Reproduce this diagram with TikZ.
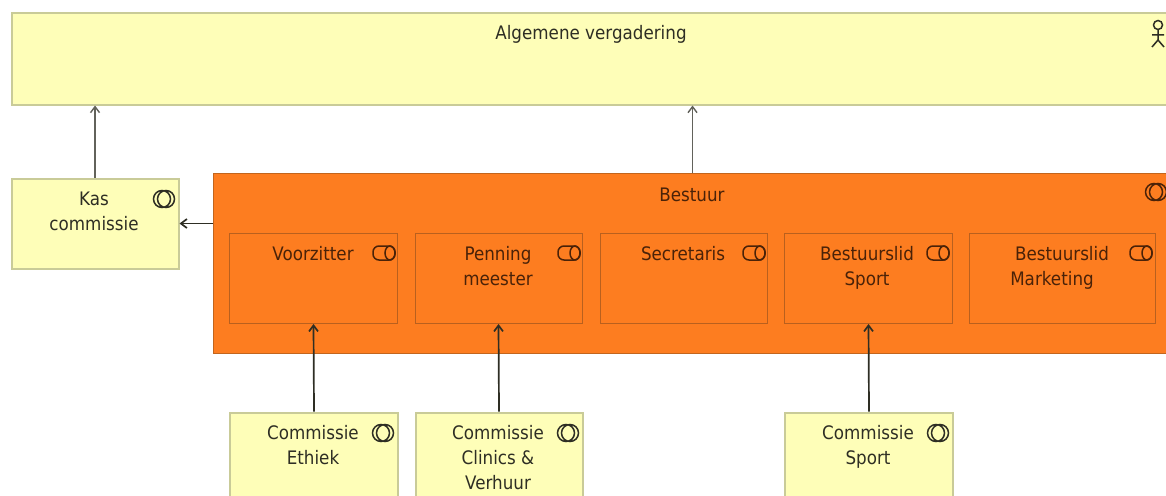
\documentclass[tikz,border=0pt]{standalone}
\usepackage{fontspec}
\setmainfont{DejaVu Sans}[FakeStretch=0.9]
\usetikzlibrary{arrows.meta}
\definecolor{yfill}{HTML}{FEFEB8}
\definecolor{yline}{HTML}{C9CB98}
\definecolor{ofill}{HTML}{FD7D20}
\definecolor{oline}{HTML}{C2651D}
\definecolor{iline}{HTML}{B9601E}
\definecolor{ink}{HTML}{2E2E24}
\definecolor{oink}{HTML}{4A2208}
\tikzset{
  x=1pt,y=-1pt,
  ybox/.style={draw=yline,fill=yfill,line width=2pt,rectangle,inner sep=0pt,anchor=north west},
  obox/.style={draw=oline,fill=ofill,line width=1pt,rectangle,inner sep=0pt,anchor=north west},
  ibox/.style={draw=iline,fill=ofill,line width=1pt,rectangle,inner sep=0pt,anchor=north west},
  txt/.style={align=center,inner sep=0pt,text=ink,font=\fontsize{18.6}{25}\selectfont},
  otxt/.style={txt,text=oink},
  conn/.style={draw=ink,line width=1.7pt,-{Straight Barb[length=6pt,width=9pt]}},
  thinconn/.style={draw=ink!75,line width=1.4pt,-{Straight Barb[length=6pt,width=9pt]}},
  icon/.style={draw=ink,line width=1.5pt},
  oicon/.style={draw=oink,line width=1.5pt},
  collab/.pic={\draw[pic actions] (-2,0) circle (8.5) (2,0) circle (8.5);},
  role/.pic={\draw[pic actions,rounded corners=6pt] (-11,-7) rectangle (11,7);
             \draw[pic actions] (6,0) ellipse (5 and 7);},
}
\begin{document}
\begin{tikzpicture}
\useasboundingbox (0,0) rectangle (1166,495);
\clip (0,0) rectangle (1166,495);
\fill[white] (0,0) rectangle (1166,495);
% main boxes
\node[ybox,minimum width=1160pt,minimum height=91pt] (top) at (10.5,12.5) {};
\node[ybox,minimum width=167pt,minimum height=90pt] (kas) at (10.5,177.5) {};
\node[obox,minimum width=958pt,minimum height=180pt] (bestuur) at (213,173) {};
\node[ibox,minimum width=168pt,minimum height=90pt] (voor) at (229,233) {};
\node[ibox,minimum width=167pt,minimum height=90pt] (penn) at (414.5,233) {};
\node[ibox,minimum width=167pt,minimum height=90pt] (secr) at (599.5,233) {};
\node[ibox,minimum width=168pt,minimum height=90pt] (sport) at (784,233) {};
\node[ibox,minimum width=186pt,minimum height=90pt] (mark) at (969,233) {};
\node[ybox,minimum width=168pt,minimum height=110pt] (ethiek) at (229,411.5) {};
\node[ybox,minimum width=167pt,minimum height=110pt] (clinics) at (414.5,411.5) {};
\node[ybox,minimum width=168pt,minimum height=110pt] (csport) at (784,411.5) {};
% connectors
\draw[thinconn] (kas.north) -- (kas.north |- top.south);
\draw[thinconn] (bestuur.north) -- (bestuur.north |- top.south);
\draw[conn] (kas.east -| bestuur.west) -- (kas.east);
\draw[conn] (ethiek.north) -- (voor.south);
\draw[conn] (clinics.north) -- (penn.south);
\draw[conn] (csport.north) -- (sport.south);
% labels
\node[txt] (tTop) at (591,34) {Algemene vergadering};
\node[txt,anchor=north] (tKas) at (94,191.5) {Kas\\commissie};
\node[otxt] (tBest) at (692,195) {Bestuur};
\node[otxt,anchor=north] (tVoor) at (313,246) {Voorzitter};
\node[otxt,anchor=north] (tPenn) at (498,246) {Penning\\meester};
\node[otxt,anchor=north] (tSecr) at (683,246) {Secretaris};
\node[otxt,anchor=north] (tSport) at (867,246) {Bestuurslid\\Sport};
\node[otxt,anchor=north] (tMark) at (1062,246) {Bestuurslid};
\node[otxt,anchor=north] (tMark2) at (1052,271) {Marketing};
\node[txt,anchor=north] (tEth) at (313,425.5) {Commissie\\Ethiek};
\node[txt,anchor=north] (tCli) at (498,425.5) {Commissie\\Clinics \&\\Verhuur};
\node[txt,anchor=north] (tCsp) at (868,425.5) {Commissie\\Sport};
% icons
\pic[icon] at (164,199) {collab};
\pic[oicon] at (1156,192) {collab};
\pic[icon] at (383,433) {collab};
\pic[icon] at (568,433) {collab};
\pic[icon] at (938,433) {collab};
\pic[oicon] at (384,253) {role};
\pic[oicon] at (569,253) {role};
\pic[oicon] at (754,253) {role};
\pic[oicon] at (938,253) {role};
\pic[oicon] at (1141,253) {role};
% actor
\draw[icon] (1158,25) circle (4.5) (1158,30) -- (1158,40) (1152,35) -- (1164,35) (1152,47) -- (1158,40) -- (1164,47);
\end{tikzpicture}
\end{document}
